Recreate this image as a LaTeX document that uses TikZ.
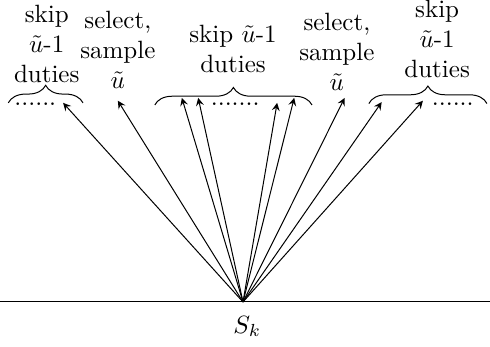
\documentclass[tikz,border=0pt]{standalone}
\usepackage{amsmath}
\usepackage{tikz}
\usetikzlibrary{decorations.pathreplacing}

\begin{document}
\begin{tikzpicture}[>=stealth,
  lbl/.style={align=center, anchor=base, inner sep=0pt},
  brc/.style={decorate, decoration={brace, amplitude=7pt}}]
  \useasboundingbox (-3.417,-0.633) rectangle (3.473,4.246);
  \coordinate (S) at (0,0);
  \coordinate (L) at (-3.42,0);
  \coordinate (R) at (3.47,0);
  \node[anchor=base] (Sk) at (0.06,-0.44) {$S_k$};
  \coordinate (t1) at (-2.53,2.80);
  \coordinate (t2) at (-1.76,2.83);
  \coordinate (t3) at (-0.86,2.87);
  \coordinate (t4) at (-0.63,2.87);
  \coordinate (t5) at (0.48,2.80);
  \coordinate (t6) at (0.72,2.87);
  \coordinate (t7) at (1.43,2.87);
  \coordinate (t8) at (1.95,2.81);
  \coordinate (t9) at (2.53,2.83);
  \coordinate (b1l) at (-3.30,2.80);
  \coordinate (b1r) at (-2.25,2.80);
  \coordinate (b2l) at (-1.24,2.77);
  \coordinate (b2r) at (0.97,2.77);
  \coordinate (b3l) at (1.77,2.79);
  \coordinate (b3r) at (3.43,2.79);
  \node[lbl] (skip1) at (-2.76,3.09) {skip\\$\tilde{u}$-1\\duties};
  \node[lbl] (sel1) at (-1.76,3.00) {select,\\sample\\$\tilde{u}$};
  \node[lbl] (skip2) at (-0.14,3.22) {skip $\tilde{u}$-1\\duties};
  \node[lbl] (sel2) at (1.32,2.98) {select,\\sample\\$\tilde{u}$};
  \node[lbl] (skip3) at (2.73,3.15) {skip\\$\tilde{u}$-1\\duties};
  \node[lbl] (d1) at (-2.92,2.76) {......};
  \node[lbl] (d2) at (-0.11,2.76) {.......};
  \node[lbl] (d3) at (2.95,2.76) {......};
  \draw (L) -- (R);
  \draw[brc] (b1l) -- (b1r);
  \draw[brc] (b2l) -- (b2r);
  \draw[brc] (b3l) -- (b3r);
  \foreach \t in {t1,t2,t3,t4,t5,t6,t7,t8,t9}
    \draw[->] (S) -- (\t);
\end{tikzpicture}
\end{document}
